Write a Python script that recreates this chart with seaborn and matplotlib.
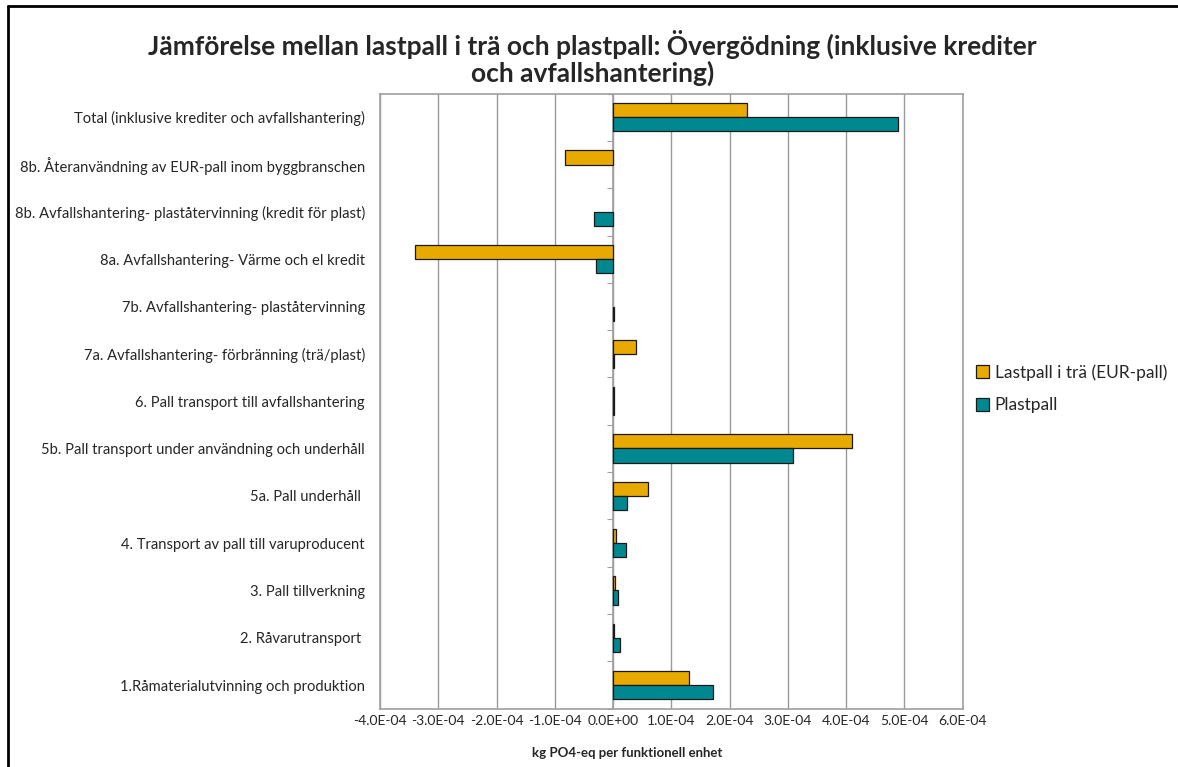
import matplotlib
matplotlib.use("Agg")
import matplotlib.pyplot as plt
from matplotlib.ticker import FuncFormatter, FixedLocator
from matplotlib.lines import Line2D
import seaborn as sns
import pandas as pd

categories = [
    "Total (inklusive krediter och avfallshantering)",
    "8b. Återanvändning av EUR-pall inom byggbranschen",
    "8b. Avfallshantering- plaståtervinning (kredit för plast)",
    "8a. Avfallshantering- Värme och el kredit",
    "7b. Avfallshantering- plaståtervinning",
    "7a. Avfallshantering- förbränning (trä/plast)",
    "6. Pall transport till avfallshantering",
    "5b. Pall transport under användning och underhåll",
    "5a. Pall underhåll ",
    "4. Transport av pall till varuproducent",
    "3. Pall tillverkning",
    "2. Råvarutransport ",
    "1.Råmaterialutvinning och produktion",
]

series_names = ["Lastpall i trä (EUR-pall)", "Plastpall"]

wood = [2.30e-4, -0.82e-4, 0.0, -3.40e-4, 0.0, 0.40e-4, 0.01e-4,
        4.11e-4, 0.60e-4, 0.05e-4, 0.04e-4, 0.02e-4, 1.30e-4]
plastic = [4.89e-4, 0.0, -0.32e-4, -0.29e-4, 0.01e-4, 0.01e-4, 0.01e-4,
           3.09e-4, 0.24e-4, 0.22e-4, 0.09e-4, 0.125e-4, 1.71e-4]

x_ticks = [-4e-4, -3e-4, -2e-4, -1e-4, 0.0, 1e-4, 2e-4, 3e-4, 4e-4, 5e-4, 6e-4]

colors = ["#E8A900", "#008890"]

df = pd.DataFrame({
    "kategori": categories * 2,
    "värde": wood + plastic,
    "serie": [series_names[0]] * len(categories) + [series_names[1]] * len(categories),
})
# steps without any contribution get no bar at all
df = df[df["värde"] != 0]

sns.set_style("white")
plt.rcParams["font.family"] = ["Lato", "DejaVu Sans"]

fig = plt.figure(figsize=(11.78, 7.67), dpi=100)
ax = fig.add_axes([0.3226, 0.076, 0.4945, 0.802])

sns.barplot(data=df, y="kategori", x="värde", hue="serie", order=categories,
            hue_order=series_names, palette=colors, orient="h", width=0.6,
            edgecolor="#1a1a1a", linewidth=0.9, saturation=1, ax=ax, zorder=3)

ax.set_xlim(x_ticks[0], x_ticks[-1])
ax.set_xticks(x_ticks)

def sci_fmt(v, pos):
    if abs(v) < 1e-12:
        return "0.0E+00"
    return f"{v:.1E}"

ax.xaxis.set_major_formatter(FuncFormatter(sci_fmt))
ax.grid(axis="x", color="#9a9a9a", linewidth=1.0, zorder=0)
ax.grid(axis="y", visible=False)
for sp in ax.spines.values():
    sp.set_visible(True)
    sp.set_color("#a0a0a0")
    sp.set_linewidth(1.2)

ax.tick_params(axis="x", length=4, color="#a0a0a0", labelsize=10.0, pad=0.5)
ax.tick_params(axis="y", length=0, labelsize=10.6, pad=10.8)
ax.set_ylabel("")
ax.set_xlabel("kg PO4-eq per funktionell enhet", fontsize=9.5, fontweight="bold")
ax.xaxis.set_label_coords(0.425, -0.062)

# category axis drawn at x = 0 with ticks between the groups
ax.axvline(0, color="#a0a0a0", linewidth=1.2, zorder=2)
frac0 = (0 - x_ticks[0]) / (x_ticks[-1] - x_ticks[0])
sec = ax.secondary_yaxis(frac0)
sec.spines["left"].set_visible(False)
sec.yaxis.set_major_locator(FixedLocator([i - 0.5 for i in range(len(categories) + 1)]))
sec.tick_params(axis="y", length=4, color="#a0a0a0", labelleft=False, labelright=False)

ax.legend(loc="center left", bbox_to_anchor=(1.012, 0.52), frameon=False,
          fontsize=12.5, handlelength=0.75, handleheight=0.75, handletextpad=0.3,
          labelspacing=0.95, borderaxespad=0)

fig.text(0.503, 0.942, "Jämförelse mellan lastpall i trä och plastpall: Övergödning (inklusive krediter",
         ha="center", va="center", fontsize=19, fontweight="bold")
fig.text(0.503, 0.904, "och avfallshantering)",
         ha="center", va="center", fontsize=19, fontweight="bold")

# outer chart frame (left and top edges)
fig.add_artist(Line2D([0.0072, 0.0072], [0.0, 0.992], transform=fig.transFigure,
                      color="black", linewidth=2.0))
fig.add_artist(Line2D([0.0072, 1.0], [0.992, 0.992], transform=fig.transFigure,
                      color="black", linewidth=2.0))

fig.savefig("out.png", dpi=100, facecolor="white")
